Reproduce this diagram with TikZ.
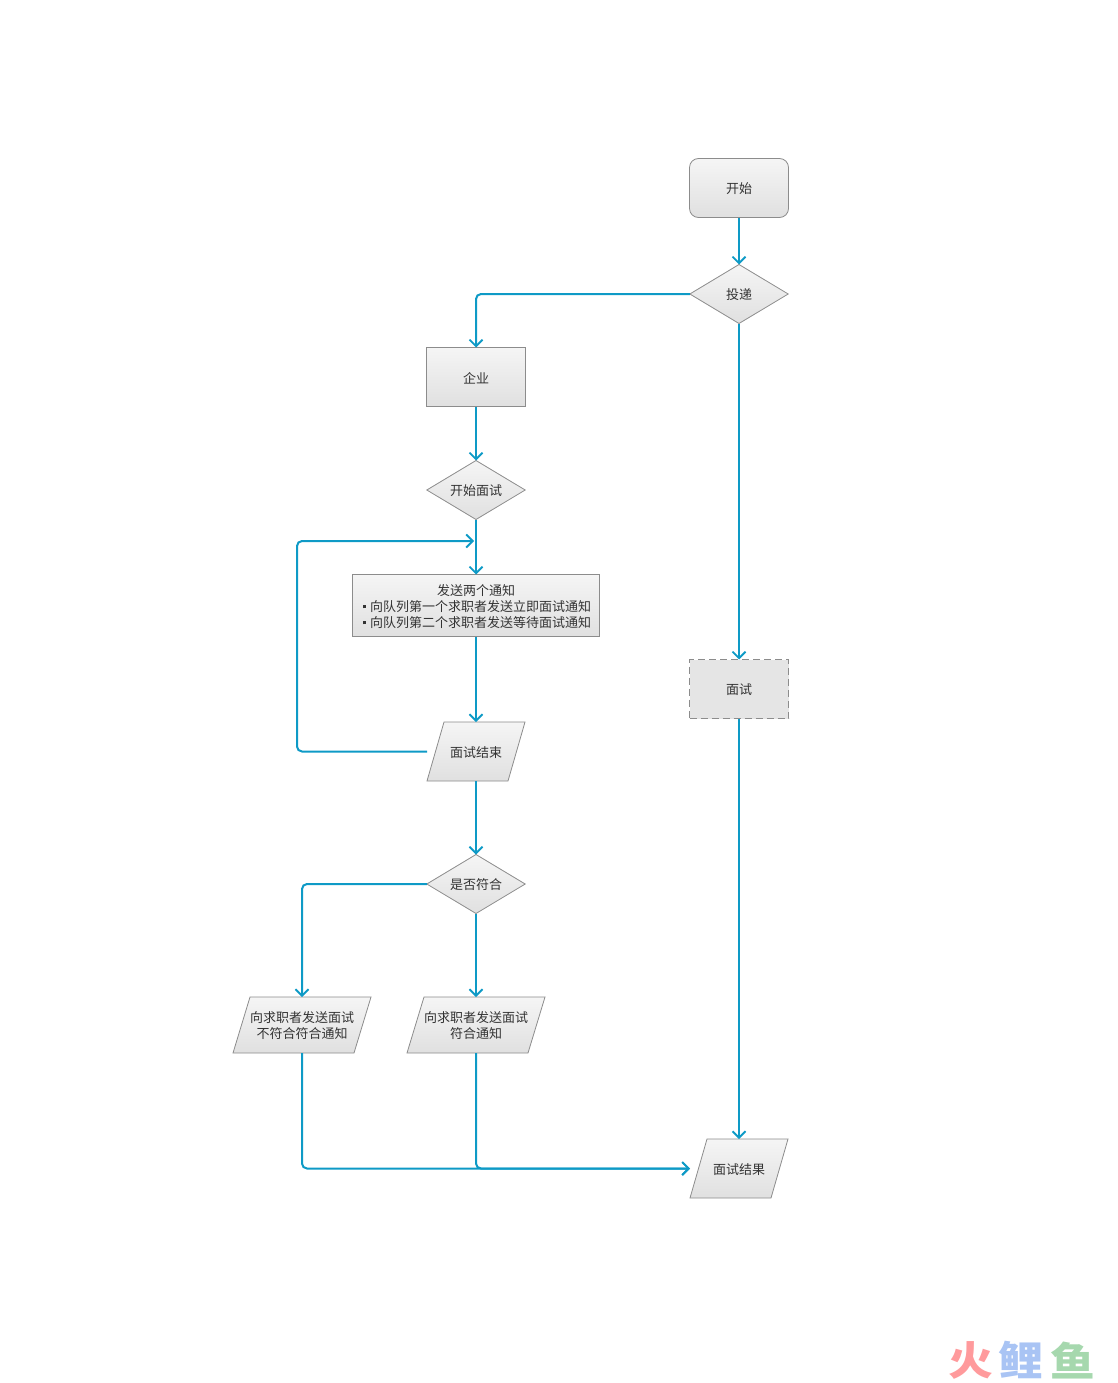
\documentclass[tikz,border=0pt]{standalone}
\usepackage{fontspec}
\setmainfont{Noto Sans CJK SC}
\usetikzlibrary{shapes.geometric,arrows.meta}
\definecolor{flow}{HTML}{0E9AC6}
\definecolor{edge}{HTML}{8C8C8C}
\definecolor{ink}{HTML}{333333}
\definecolor{wmred}{HTML}{FF9A9C}
\definecolor{wmblue}{HTML}{A9C4F4}
\definecolor{wmgreen}{HTML}{A6D8AE}
\definecolor{F4}{HTML}{F5F5F5}
\definecolor{E2}{HTML}{E0E0E0}
\definecolor{E6}{HTML}{E5E5E5}
\tikzset{
  base/.style={font=\fontsize{13}{16}\selectfont,text=ink,align=center,inner sep=0pt,outer sep=0pt},
  soft/.style={draw=edge,line width=0.8pt,top color=F4,bottom color=E2},
  boxn/.style={base,rectangle,soft},
  startn/.style={base,rectangle,rounded corners=9pt,soft},
  decn/.style={base,diamond,soft,aspect=1.68},
  dashn/.style={base,rectangle,draw=edge,line width=0.8pt,dashed,dash pattern=on 7pt off 4pt,fill=E6},
  paran/.style={base,rectangle},
  link/.style={draw=flow,line width=2pt,rounded corners=5pt,-{Straight Barb[length=6.5pt,width=13pt,line width=1.8pt]}},
  wm/.style={font=\fontsize{40}{40}\selectfont\bfseries,inner sep=0pt}
}
% centre x, top, bottom, half width of the full box, slant, name, text
\newcommand{\parashape}[7]{%
  \shade[draw=edge,line width=0.8pt,top color=F4,bottom color=E2]
    ({#1-#4+#5},#2) -- ({#1+#4},#2) -- ({#1+#4-#5},#3) -- ({#1-#4},#3) -- cycle;
  \node[paran,minimum width={2*#4},minimum height={#3-#2}] (#6) at ({#1},{(#2+#3)/2}) {#7};
}
\newcommand{\dotmark}{\makebox[9pt][l]{\hspace{2pt}\raisebox{3pt}{\rule{3pt}{3pt}}}}
\newcommand{\tw}{\rule{0pt}{13pt}}
\begin{document}
\begin{tikzpicture}[x=1pt,y=-1pt]
\useasboundingbox (0,0) rectangle (1118,1383);
\node[startn,minimum width=99pt,minimum height=59pt] (start) at (739,188) {\tw 开始};
\node[decn,minimum width=98.4pt,minimum height=59pt] (deliver) at (739,294) {\tw 投递};
\node[boxn,minimum width=99pt,minimum height=59pt] (corp) at (476,377) {\tw 企业};
\node[decn,minimum width=98.4pt,minimum height=59pt] (begin) at (476,490) {\tw 开始面试};
\node[boxn,minimum width=247pt,minimum height=62pt] (notify) at (476,605.5) {\tw 发送两个通知\\\dotmark 向队列第一个求职者发送立即面试通知\\\dotmark 向队列第二个求职者发送等待面试通知};
\parashape{476}{722}{781}{49}{17}{finish}{\tw 面试结束}
\node[decn,minimum width=98.4pt,minimum height=59pt] (fit) at (476,884) {\tw 是否符合};
\parashape{302}{997}{1053}{69}{17}{reject}{\tw 向求职者发送面试\\不符合符合通知}
\parashape{476}{997}{1053}{69}{17}{accept}{\tw 向求职者发送面试\\符合通知}
\node[dashn,minimum width=99pt,minimum height=59pt] (interview) at (739,689) {\tw 面试};
\parashape{739}{1139}{1198}{49}{17}{result}{\tw 面试结果}
\coordinate (loopin) at (474,541);
\coordinate (loopa) at (297,751.5);
\draw[link] (start) -- (deliver);
\draw[link] (deliver.west) -| (corp.north);
\draw[link] (corp) -- (begin);
\draw[link] (begin) -- (notify);
\draw[link] (notify) -- (finish);
\draw[link] (finish.west) -- (loopa) |- (loopin);
\draw[link] (finish) -- (fit);
\draw[link] (fit.west) -| (reject.north);
\draw[link] (fit) -- (accept);
\draw[link] (reject.south) |- (result.west);
\draw[link] (accept.south) |- (result.west);
\draw[link] (deliver) -- (interview);
\draw[link] (interview) -- (result);
\node[wm,text=wmred,anchor=center] (wmone) at (971,1360) {\scalebox{1.12}[1]{火}};
\node[wm,text=wmblue,anchor=center] (wmtwo) at (1021,1360) {\scalebox{1.12}[1]{鲤}};
\node[wm,text=wmgreen,anchor=center] (wmthree) at (1073,1360) {\scalebox{1.12}[1]{鱼}};
\end{tikzpicture}
\end{document}
